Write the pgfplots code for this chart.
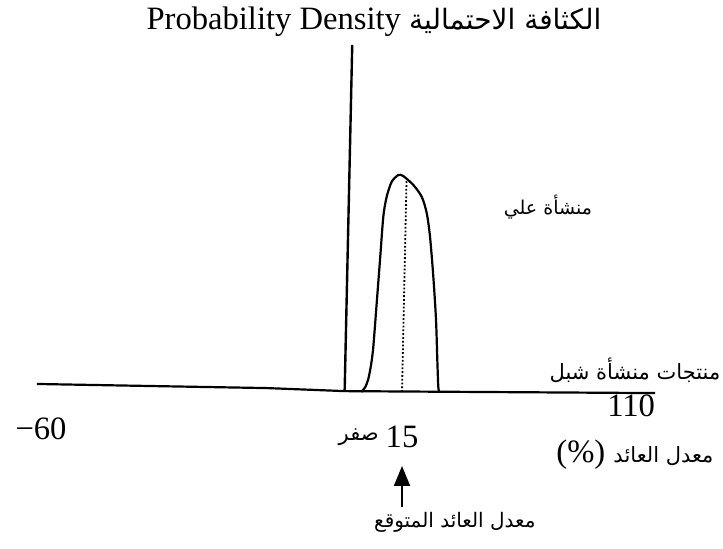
\documentclass[border=0pt]{standalone}
\usepackage{pgfplots}
\pgfplotsset{compat=1.18}
\usepackage{fontspec}
\setmainfont{Liberation Serif}
\newfontfamily\arabicfont[Script=Arabic]{DejaVu Sans}
\TeXXeTstate=1
\usetikzlibrary{arrows.meta}

% Distribution of the rate of return (schematic)
\pgfplotstableread{
x      y
4.30   0.000
5.40   0.025
6.20   0.065
6.90   0.130
7.45   0.209
8.34   0.410
9.21   0.608
10.08  0.808
10.97  0.900
12.29  0.969
14.03  1.000
15.34  0.995
17.97  0.954
20.18  0.900
21.50  0.825
22.37  0.716
23.24  0.531
23.95  0.332
24.29  0.147
24.55  0.024
24.82  0.000
}\curveAli

\newcommand{\lat}{\fontsize{16.3}{19}\selectfont}
\newcommand{\ar}[1][10.5]{\arabicfont\fontsize{#1}{13}\selectfont}

\begin{document}
\begin{tikzpicture}
\begin{axis}[
  name=ax,
  scale only axis,
  width=361.5pt, height=274.5pt,
  xmin=-90.79, xmax=99.47,
  ymin=-0.7235, ymax=1.8065,
  hide axis, clip=false,
]
% horizontal axis (rate of return)
\addplot[black, line width=1.1pt] coordinates {(-81.1,0.037) (-55.8,0.029) (-20.5,0.018) (0,0.004) (81.6,-0.005)};
% vertical axis (probability density)
\addplot[black, line width=1.2pt] coordinates {(-0.1,0) (1.9,1.6)};
% distribution curve
\addplot[black, line width=1.1pt, smooth, tension=0.45] table[x=x, y=y] {\curveAli};
% expected return
\addplot[black, densely dotted, line width=0.9pt] coordinates {(15,0) (16.2,0.985)};

\node at (axis cs:7.63,1.705) {\lat Probability Density {\ar[14]\beginR الكثافة الاحتمالية\endR}};
\node at (axis cs:53.4,0.853) {\ar[9.5]\beginR منشأة علي\endR};
\node at (axis cs:76.3,0.101) {\ar\beginR منتجات منشأة شبل\endR};
\node at (axis cs:75.3,-0.065) {\lat 110};
\node at (axis cs:-80,-0.17) {\lat −60};
\node at (axis cs:15,-0.207) {\lat 15};
\node at (axis cs:3.6,-0.207) {\ar\beginR صفر\endR};
\node at (axis cs:76.3,-0.29) {\lat (\%) {\ar\beginR معدل العائد\endR}};
\draw[black, line width=0.9pt, -{Triangle[length=10pt, width=8pt]}] (axis cs:15,-0.53) -- (axis cs:15,-0.341);
\node at (axis cs:28.9,-0.599) {\ar[10]\beginR معدل العائد المتوقع\endR};
\end{axis}
\pgfresetboundingbox
\useasboundingbox (ax.south west) rectangle (ax.north east);
\end{tikzpicture}
\end{document}
